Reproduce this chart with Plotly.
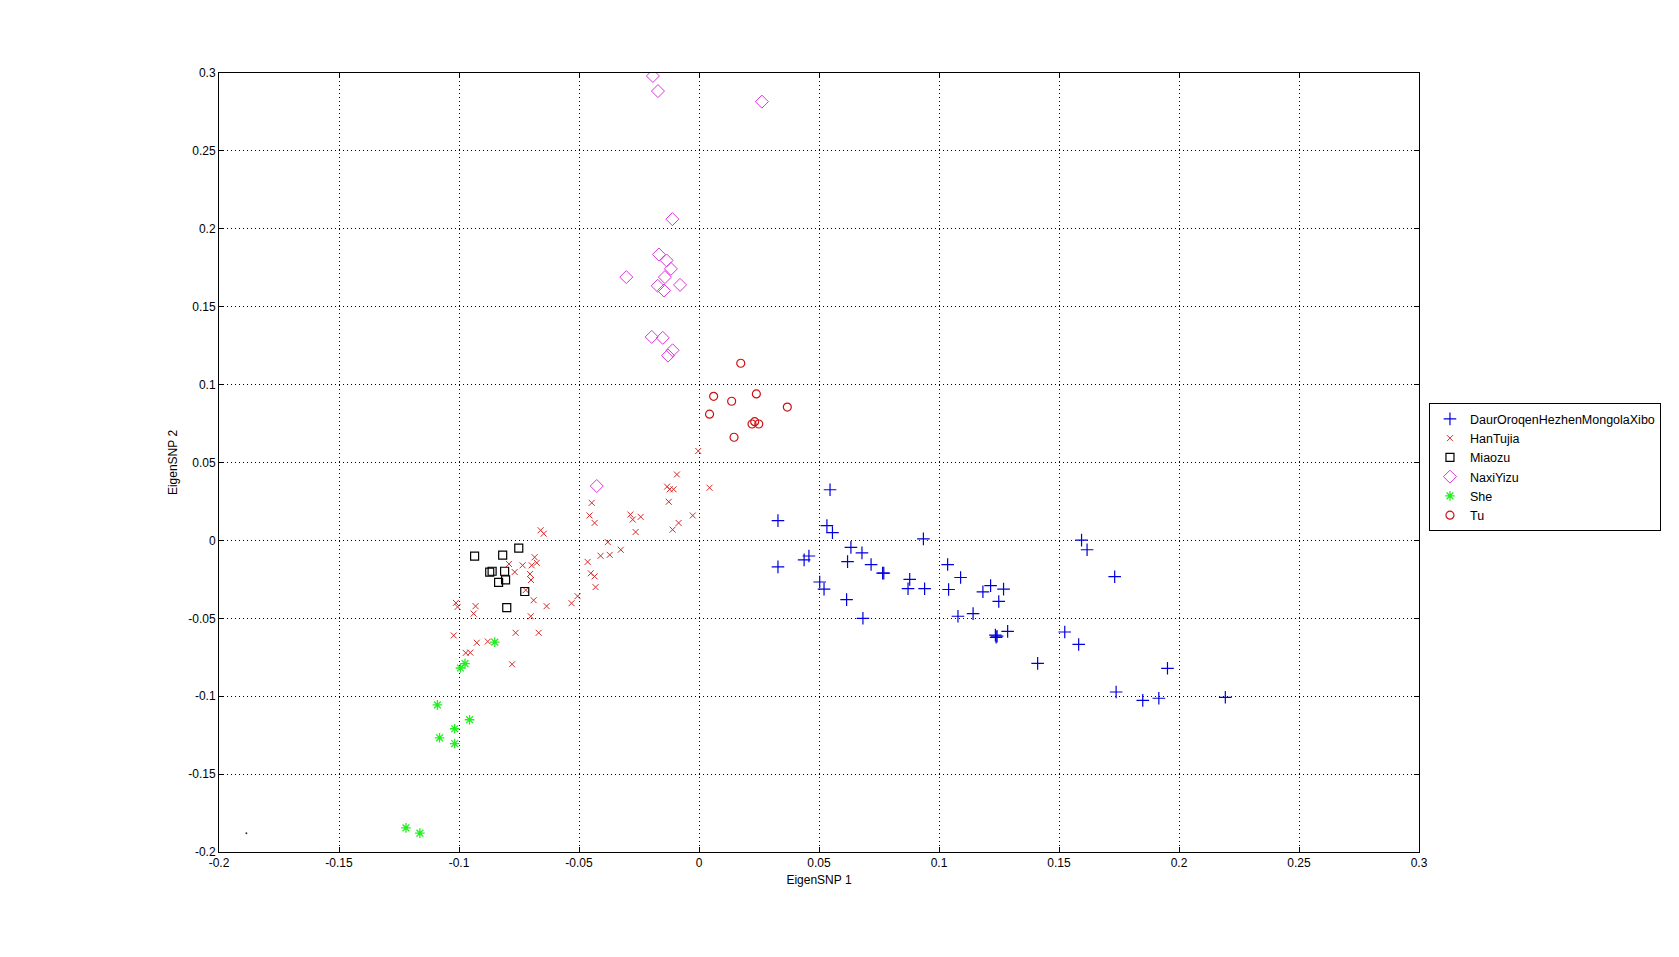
import plotly.graph_objects as go

# ---- data (EigenSNP 1, EigenSNP 2) ----
daur_x = [0.0329, 0.0329, 0.0546, 0.0533, 0.0556, 0.0935, 0.0633, 0.0679, 0.0619, 0.0717,
          0.0765, 0.0770, 0.0438, 0.0458, 0.0503, 0.0521, 0.0615, 0.0878, 0.0871, 0.0940,
          0.1036, 0.1090, 0.1040, 0.0683, 0.1079, 0.1142, 0.1183, 0.1215, 0.1269, 0.1249,
          0.1235, 0.1242, 0.1238, 0.1286, 0.1411, 0.1524, 0.1582, 0.1594, 0.1617, 0.1732,
          0.1738, 0.1849, 0.1916, 0.1952, 0.2193]
daur_y = [0.0127, -0.0170, 0.0325, 0.0095, 0.0050, 0.0010, -0.0045, -0.0080, -0.0136, -0.0155,
          -0.0210, -0.0210, -0.0125, -0.0100, -0.0267, -0.0313, -0.0380, -0.0250, -0.0310, -0.0310,
          -0.0155, -0.0238, -0.0315, -0.0500, -0.0487, -0.0470, -0.0330, -0.0290, -0.0313, -0.0392,
          -0.0608, -0.0615, -0.0622, -0.0584, -0.0789, -0.0588, -0.0668, 0.0002, -0.0060, -0.0233,
          -0.0973, -0.1027, -0.1013, -0.0821, -0.1007]

han_x = [-0.0133, -0.0122, -0.0106, 0.0044, -0.0447, -0.0456, -0.0435, -0.0286, -0.0276, -0.0243,
         -0.0126, -0.0026, -0.0085, -0.0110, -0.0264, -0.0660, -0.0647, -0.0380, -0.0410, -0.0372,
         -0.0326, -0.0464, -0.0451, -0.0435, -0.0431, -0.0506, -0.0531, -0.0685, -0.0676, -0.0697,
         -0.0735, -0.0792, -0.0768, -0.0704, -0.0700, -0.0722, -0.0689, -0.0635, -0.0701, -0.1013,
         -0.1006, -0.0931, -0.0939, -0.1022, -0.0926, -0.0880, -0.0764, -0.0668, -0.0972, -0.0953,
         -0.0779, -0.0003, -0.0092]
han_y = [0.0345, 0.0328, 0.0328, 0.0338, 0.0241, 0.0160, 0.0112, 0.0166, 0.0134, 0.0151,
         0.0248, 0.0160, 0.0112, 0.0069, 0.0054, 0.0065, 0.0043, -0.0011, -0.0099, -0.0093,
         -0.0060, -0.0138, -0.0211, -0.0231, -0.0300, -0.0358, -0.0403, -0.0108, -0.0144, -0.0160,
         -0.0160, -0.0151, -0.0203, -0.0216, -0.0254, -0.0319, -0.0384, -0.0422, -0.0487, -0.0401,
         -0.0427, -0.0422, -0.0470, -0.0610, -0.0657, -0.0649, -0.0593, -0.0593, -0.0722, -0.0720,
         -0.0795, 0.0574, 0.0423]

miao_x = [-0.0935, -0.0818, -0.0751, -0.0872, -0.0862, -0.0810, -0.0806, -0.0835, -0.0726, -0.0801]
miao_y = [-0.0101, -0.0095, -0.0050, -0.0203, -0.0198, -0.0198, -0.0254, -0.0269, -0.0328, -0.0431]

naxi_x = [-0.0192, -0.0171, 0.0262, -0.0111, -0.0167, -0.0135, -0.0117, -0.0142, -0.0079, -0.0172,
          -0.0146, -0.0303, -0.0197, -0.0151, -0.0110, -0.0129, -0.0426]
naxi_y = [0.2981, 0.2884, 0.2816, 0.2062, 0.1835, 0.1797, 0.1743, 0.1690, 0.1640, 0.1634,
          0.1604, 0.1690, 0.1306, 0.1300, 0.1220, 0.1186, 0.0349]

she_x = [-0.0851, -0.0994, -0.0975, -0.1090, -0.0956, -0.1018, -0.1081, -0.1018, -0.1221, -0.1163]
she_y = [-0.0653, -0.0819, -0.0791, -0.1056, -0.1151, -0.1209, -0.1267, -0.1304, -0.1845, -0.1879]

tu_x = [0.0174, 0.0061, 0.0136, 0.0044, 0.0239, 0.0221, 0.0232, 0.0249, 0.0146, 0.0368]
tu_y = [0.1137, 0.0925, 0.0893, 0.0810, 0.0940, 0.0747, 0.0762, 0.0747, 0.0662, 0.0856]

other_x = [-0.1886]
other_y = [-0.1880]

x_ticks = [-0.2, -0.15, -0.1, -0.05, 0, 0.05, 0.1, 0.15, 0.2, 0.25, 0.3]
x_labels = ["-0.2", "-0.15", "-0.1", "-0.05", "0", "0.05", "0.1", "0.15", "0.2", "0.25", "0.3"]
y_ticks = [-0.2, -0.15, -0.1, -0.05, 0, 0.05, 0.1, 0.15, 0.2, 0.25, 0.3]
y_labels = ["-0.2", "-0.15", "-0.1", "-0.05", "0", "0.05", "0.1", "0.15", "0.2", "0.25", "0.3"]

FONT = "Liberation Sans, Arial, sans-serif"

fig = go.Figure()

def add(name, xs, ys, symbol, color, size, lw=1, legend=True):
    fig.add_trace(go.Scatter(
        x=xs, y=ys, mode="markers", name=name, showlegend=legend,
        marker=dict(symbol=symbol, size=size, color=color,
                    line=dict(color=color, width=lw)),
    ))

add("DaurOroqenHezhenMongolaXibo", daur_x, daur_y, "cross-thin-open", "#0000dd", 9, 1.2)
add("HanTujia", han_x, han_y, "x-thin-open", "#d42a2a", 6, 1)
add("Miaozu", miao_x, miao_y, "square-open", "#000000", 8, 1.2)
add("NaxiYizu", naxi_x, naxi_y, "diamond-open", "#dd33dd", 10, 1)
add("She", she_x, she_y, "asterisk-open", "#22ee22", 8, 1.3)
add("Tu", tu_x, tu_y, "circle-open", "#cc1111", 8, 1.2)
add("other", other_x, other_y, "circle", "#333333", 2, 0, legend=False)

axis_common = dict(
    showline=True, linecolor="black", linewidth=1, mirror="ticks",
    ticks="inside", ticklen=5, tickcolor="black", tickwidth=1,
    showgrid=True, gridcolor="black", gridwidth=1, griddash="1px,3px",
    zeroline=False, tickfont=dict(family=FONT, size=12, color="black"),
)

fig.update_xaxes(range=[-0.2, 0.3], tickvals=x_ticks, ticktext=x_labels,
                 title=dict(text="EigenSNP 1", font=dict(family=FONT, size=12, color="black"), standoff=6),
                 **axis_common)
fig.update_yaxes(range=[-0.2, 0.3], tickvals=y_ticks, ticktext=y_labels,
                 title=dict(text="EigenSNP 2", font=dict(family=FONT, size=12, color="black"), standoff=8),
                 **axis_common)

# page body has an 8px margin, so the figure is sized to fit the window
fig.update_layout(
    width=1671, height=949,
    margin=dict(l=211, r=260, t=65, b=105),
    paper_bgcolor="white", plot_bgcolor="white",
    font=dict(family=FONT, size=12, color="black"),
    legend=dict(x=1.0083, xanchor="left", y=0.576, yanchor="top",
                bgcolor="white", bordercolor="black", borderwidth=1,
                font=dict(family=FONT, size=12.5, color="black"),
                tracegroupgap=0),
    showlegend=True,
)

fig.write_html("out.html")
